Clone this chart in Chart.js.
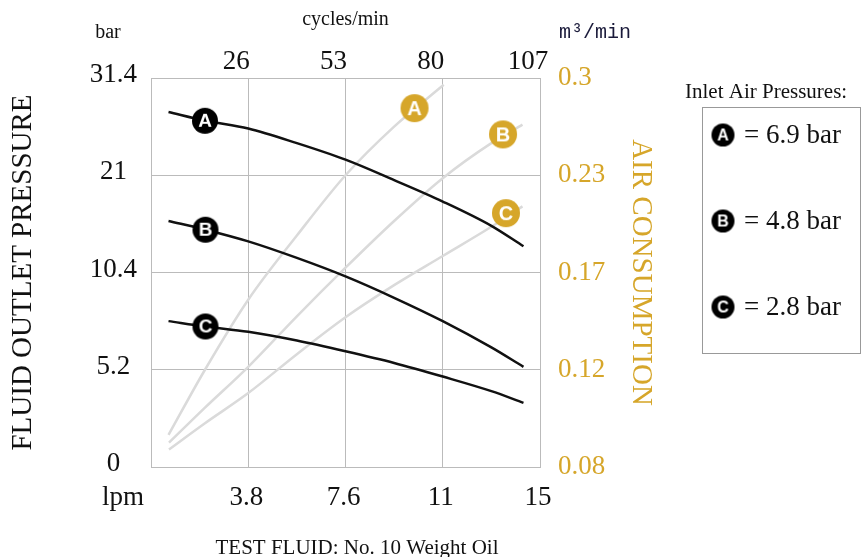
<!DOCTYPE html>
<html>
<head>
<meta charset="utf-8">
<script src="https://cdn.jsdelivr.net/npm/chart.js@4.4.1/dist/chart.umd.min.js"></script>
<style>
    html, body { margin: 0; padding: 0; background: #fff; }
    #wrap { width: 861px; height: 557px; }
</style>
</head>
<body>
<div id="wrap"><canvas id="grafico"></canvas></div>
<script>
// the grid is 4 equal steps on every axis, the printed values are not evenly spaced
const lpmLabels = ['', '3.8', '7.6', '11', '15'];
const cycleLabels = ['', '26', '53', '80', '107'];
const barLabels = ['0', '5.2', '10.4', '21', '31.4'];
const airLabels = ['0.08', '0.12', '0.17', '0.23', '0.3'];

const letters = ['A', 'B', 'C'];
const inletPressures = ['6.9 bar', '4.8 bar', '2.8 bar'];

// fluid outlet pressure curves (grid units)
const pressureX = [0.18, 0.56, 1.0, 1.5, 2.0, 2.5, 3.0, 3.5, 3.83];
const pressureA = [3.65, 3.56, 3.48, 3.33, 3.16, 2.95, 2.73, 2.48, 2.27];
const pressureB = [2.53, 2.44, 2.32, 2.15, 1.96, 1.74, 1.50, 1.23, 1.03];
const pressureC = [1.50, 1.445, 1.39, 1.30, 1.19, 1.07, 0.93, 0.78, 0.66];

// air consumption curves (grid units)
const airAX = [0.18, 0.555, 1.0, 1.5, 2.0, 2.5, 3.01];
const airA = [0.33, 1.0, 1.72, 2.38, 3.0, 3.5, 3.93];
const airX = [0.185, 0.555, 1.0, 1.5, 2.0, 2.5, 3.0, 3.5, 3.82];
const airB = [0.25, 0.61, 1.03, 1.55, 2.05, 2.53, 2.97, 3.33, 3.52];
const airC = [0.18, 0.45, 0.76, 1.16, 1.54, 1.87, 2.17, 2.47, 2.68];

// where the letter badges sit
const blackBadgeX = [0.555, 0.56, 0.56];
const blackBadgeY = [3.56, 2.44, 1.445];
const goldBadgeX = [2.71, 3.62, 3.65];
const goldBadgeY = [3.69, 3.42, 2.61];

const GOLD = '#D6A62A';
const SERIF = '"Liberation Serif", "Times New Roman", serif';

function criarMarcador(letra, fundo, raio, tamanho) {
    const c = document.createElement('canvas');
    const d = raio * 2 + 2;
    c.width = d;
    c.height = d;
    const ctx = c.getContext('2d');
    ctx.beginPath();
    ctx.arc(d / 2, d / 2, raio, 0, Math.PI * 2);
    ctx.fillStyle = fundo;
    ctx.fill();
    ctx.fillStyle = '#fff';
    ctx.font = 'bold ' + tamanho + 'px "Liberation Sans", Arial, sans-serif';
    ctx.textAlign = 'center';
    ctx.textBaseline = 'middle';
    ctx.fillText(letra, d / 2, d / 2 + 1);
    return c;
}

function pontos(xs, ys) {
    const lista = [];
    for (let i = 0; i < xs.length; i++) {
        lista.push({ x: xs[i], y: ys[i] });
    }
    return lista;
}

function curva(xs, ys, cor, ordem) {
    return {
        data: pontos(xs, ys),
        borderColor: cor,
        borderWidth: 2.5,
        pointRadius: 0,
        fill: false,
        cubicInterpolationMode: 'monotone',
        order: ordem
    };
}

const datasets = [
    curva(pressureX, pressureA, '#111', 1),
    curva(pressureX, pressureB, '#111', 1),
    curva(pressureX, pressureC, '#111', 1),
    curva(airAX, airA, '#dadada', 2),
    curva(airX, airB, '#dadada', 2),
    curva(airX, airC, '#dadada', 2)
];

for (let i = 0; i < letters.length; i++) {
    datasets.push({
        type: 'scatter',
        data: [{ x: blackBadgeX[i], y: blackBadgeY[i] }],
        pointStyle: criarMarcador(letters[i], '#000', 13, 19),
        order: 0
    });
    datasets.push({
        type: 'scatter',
        data: [{ x: goldBadgeX[i], y: goldBadgeY[i] }],
        pointStyle: criarMarcador(letters[i], GOLD, 14, 20),
        order: 0
    });
}

const legendMarkers = letters.map(l => criarMarcador(l, '#000', 11.5, 16));

const extras = {
    id: 'extras',
    afterDraw(chart) {
        const ctx = chart.ctx;
        ctx.save();
        ctx.textBaseline = 'middle';

        ctx.fillStyle = '#111';
        ctx.font = '20px ' + SERIF;
        ctx.textAlign = 'center';
        ctx.fillText('bar', 108, 33);

        ctx.font = '20px "Liberation Mono", "DejaVu Sans Mono", monospace';
        ctx.fillStyle = '#1a1a3a';
        ctx.fillText('m³/min', 595, 33);

        ctx.fillStyle = '#111';
        ctx.font = '27px ' + SERIF;
        ctx.fillText('lpm', 123, 498);

        ctx.font = '21px ' + SERIF;
        ctx.fillText('TEST FLUID: No. 10 Weight Oil', 357, 548);

        // legend
        ctx.textAlign = 'left';
        ctx.fillText('Inlet Air Pressures:', 685, 92);

        ctx.strokeStyle = '#999';
        ctx.lineWidth = 1;
        ctx.strokeRect(702.5, 107.5, 158, 246);

        const linhas = [135, 221, 307];
        ctx.font = '27px ' + SERIF;
        for (let i = 0; i < letters.length; i++) {
            const m = legendMarkers[i];
            ctx.drawImage(m, 723 - m.width / 2, linhas[i] - m.height / 2);
            ctx.fillText('= ' + inletPressures[i], 744, linhas[i] + 1);
        }
        ctx.restore();
    }
};

const gridCor = '#bbbbbb';
const tickFont = { family: SERIF, size: 27 };

new Chart(document.getElementById('grafico'), {
    type: 'line',
    data: { datasets },
    options: {
        responsive: true,
        maintainAspectRatio: false,
        animation: false,
        events: [],
        layout: { padding: 0 },
        plugins: {
            legend: { display: false },
            tooltip: { enabled: false }
        },
        scales: {
            x: {
                type: 'linear',
                position: 'bottom',
                min: 0,
                max: 4,
                afterFit(s) { s.height = 90; },
                grid: { color: gridCor, drawTicks: false },
                border: { color: gridCor },
                ticks: {
                    stepSize: 1,
                    autoSkip: false,
                    maxRotation: 0,
                    padding: 15,
                    labelOffset: -2,
                    color: '#111',
                    font: tickFont,
                    callback: v => lpmLabels[Math.round(v)]
                }
            },
            x2: {
                type: 'linear',
                position: 'top',
                min: 0,
                max: 4,
                afterFit(s) { s.height = 78; },
                grid: { display: false, drawTicks: false },
                border: { color: gridCor },
                title: {
                    display: true,
                    text: 'cycles/min',
                    color: '#111',
                    font: { family: SERIF, size: 20 },
                    padding: { top: 8, bottom: 0 }
                },
                ticks: {
                    stepSize: 1,
                    autoSkip: false,
                    maxRotation: 0,
                    padding: 0,
                    labelOffset: -12,
                    color: '#111',
                    font: tickFont,
                    callback: v => cycleLabels[Math.round(v)]
                }
            },
            y: {
                type: 'linear',
                position: 'left',
                min: 0,
                max: 4,
                afterFit(s) { s.width = 151; },
                grid: { color: gridCor, drawTicks: false },
                border: { color: gridCor },
                title: {
                    display: true,
                    text: 'FLUID OUTLET PRESSURE',
                    color: '#111',
                    font: { family: SERIF, size: 29 },
                    padding: { top: 6, bottom: 0 }
                },
                ticks: {
                    stepSize: 1,
                    autoSkip: false,
                    padding: 14,
                    crossAlign: 'center',
                    labelOffset: -3,
                    color: '#111',
                    font: tickFont,
                    callback: v => barLabels[Math.round(v)]
                }
            },
            y2: {
                type: 'linear',
                position: 'right',
                min: 0,
                max: 4,
                afterFit(s) { s.width = 321; },
                grid: { display: false, drawTicks: false },
                border: { color: gridCor },
                title: {
                    display: true,
                    text: 'AIR CONSUMPTION',
                    color: GOLD,
                    font: { family: SERIF, size: 29 },
                    padding: { top: 203, bottom: 0 }
                },
                ticks: {
                    stepSize: 1,
                    autoSkip: false,
                    padding: 18,
                    color: GOLD,
                    font: tickFont,
                    callback: v => airLabels[Math.round(v)]
                }
            }
        }
    },
    plugins: [extras]
});
</script>
</body>
</html>
